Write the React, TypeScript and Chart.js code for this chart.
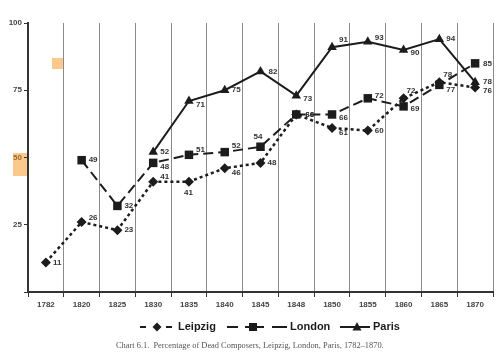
import React, { useEffect, useRef } from "react";
import { Chart, registerables } from "chart.js";

Chart.register(...registerables);

const years = ["1782", "1820", "1825", "1830", "1835", "1840", "1845", "1848", "1850", "1855", "1860", "1865", "1870"];
const leipzig = [11, 26, 23, 41, 41, 46, 48, 66, 61, 60, 72, 78, 76];
const london = [null, 49, 32, 48, 51, 52, 54, 66, 66, 72, 69, 77, 85];
const paris = [null, null, null, 52, 71, 75, 82, 73, 91, 93, 90, 94, 78];
const yTicks = [25, 50, 75, 100];

// label offsets [dx, dy] per point (styling only)
const leipzigLabelOff = [[7, 0], [7, -4], [7, 0], [7, -5], [-5, 11], [7, 5], [7, 0], [9, 0], [7, 5], [7, 0], [3, -8], [4, -7], [8, 3]];
const londonLabelOff = [[7, 0], [7, 0], [7, 0], [7, 4], [7, -5], [7, -6], [-7, -10], [9, 0], [7, 3], [7, -3], [7, 2], [7, 5], [8, 0]];
const parisLabelOff = [[7, 0], [7, 0], [7, 0], [7, 0], [7, 4], [7, 0], [8, 0], [7, 3], [7, -7], [7, -4], [7, 3], [7, 0], [8, 0]];

const INK = "#1c1c1c";
const FONT = "'Liberation Sans', Arial, sans-serif";

const decorPlugin = {
  id: "decor",
  beforeDraw(chart: any) {
    const ctx = chart.ctx;
    ctx.save();
    ctx.fillStyle = "#fbc98c";
    ctx.fillRect(52, 58, 11, 11);
    ctx.fillRect(13, 153, 14, 23);
    ctx.restore();
  },
  afterDatasetsDraw(chart: any) {
    const ctx = chart.ctx;
    const offs = [leipzigLabelOff, londonLabelOff, parisLabelOff];
    ctx.save();
    ctx.font = `bold 8px ${FONT}`;
    ctx.fillStyle = "#333";
    ctx.textAlign = "left";
    ctx.textBaseline = "middle";
    chart.data.datasets.forEach((ds: any, di: number) => {
      const meta = chart.getDatasetMeta(di);
      meta.data.forEach((pt: any, i: number) => {
        const v = ds.data[i];
        if (v === null || v === undefined) return;
        const [dx, dy] = offs[di][i];
        ctx.fillText(String(v), pt.x + dx, pt.y + dy);
      });
    });
    ctx.restore();
  },
  afterDraw(chart: any) {
    const ctx = chart.ctx;
    ctx.save();
    ctx.strokeStyle = INK;
    ctx.fillStyle = INK;
    ctx.lineWidth = 2;
    const ly = 327;
    const seg = (a: number, b: number) => {
      ctx.beginPath();
      ctx.moveTo(a, ly);
      ctx.lineTo(b, ly);
      ctx.stroke();
    };
    // Leipzig
    seg(140, 146);
    seg(166, 172);
    ctx.beginPath();
    ctx.moveTo(157, ly - 4.5);
    ctx.lineTo(161.5, ly);
    ctx.lineTo(157, ly + 4.5);
    ctx.lineTo(152.5, ly);
    ctx.closePath();
    ctx.fill();
    // London
    seg(227, 238);
    seg(245, 264);
    seg(272, 287);
    ctx.fillRect(249, ly - 4, 8, 8);
    // Paris
    seg(340, 370);
    ctx.beginPath();
    ctx.moveTo(357, ly - 5);
    ctx.lineTo(361.5, ly + 3.5);
    ctx.lineTo(352.5, ly + 3.5);
    ctx.closePath();
    ctx.fill();
    ctx.font = `bold 11px ${FONT}`;
    ctx.textAlign = "left";
    ctx.textBaseline = "middle";
    ctx.fillText("Leipzig", 178, ly);
    ctx.fillText("London", 290, ly);
    ctx.fillText("Paris", 373, ly);
    // caption
    ctx.font = "8.4px 'Liberation Serif', 'DejaVu Serif', serif";
    ctx.fillStyle = "#555";
    ctx.textAlign = "left";
    ctx.fillText("Chart 6.1.  Percentage of Dead Composers, Leipzig, London, Paris, 1782–1870.", 116, 346);
    ctx.restore();
  },
};

export default function App() {
  const ref = useRef<HTMLCanvasElement | null>(null);
  useEffect(() => {
    if (!ref.current) return;
    const chart = new Chart(ref.current, {
      type: "line",
      data: {
        labels: years,
        datasets: [
          {
            label: "Leipzig",
            data: leipzig,
            borderColor: INK,
            backgroundColor: INK,
            borderWidth: 2.5,
            borderDash: [3, 3],
            pointStyle: "rectRot",
            pointRadius: 5,
            pointBorderWidth: 0,
            spanGaps: false,
          },
          {
            label: "London",
            data: london,
            borderColor: INK,
            backgroundColor: INK,
            borderWidth: 2,
            borderDash: [10, 5],
            pointStyle: "rect",
            pointRadius: 6,
            pointBorderWidth: 0,
          },
          {
            label: "Paris",
            data: paris,
            borderColor: INK,
            backgroundColor: INK,
            borderWidth: 2,
            pointStyle: "triangle",
            pointRadius: 5.5,
            pointBorderWidth: 0,
          },
        ],
      },
      options: {
        animation: false,
        responsive: false,
        maintainAspectRatio: false,
        layout: { padding: { left: 0, top: 23, right: 7, bottom: 42 } },
        plugins: { legend: { display: false }, tooltip: { enabled: false } },
        scales: {
          x: {
            offset: true,
            grid: {
              offset: true,
              display: true,
              color: "#8a8a8a",
              lineWidth: 1,
              drawTicks: true,
              tickLength: 5,
              tickColor: "#333",
            },
            border: { display: true, color: "#333", width: 2 },
            ticks: {
              font: { family: FONT, size: 8, weight: "bold" },
              color: "#444",
              padding: 3,
              maxRotation: 0,
              autoSkip: false,
            },
            afterFit(scale: any) {
              scale.height = 20;
            },
          },
          y: {
            min: 0,
            max: 100,
            afterBuildTicks(scale: any) {
              scale.ticks = [0, ...yTicks].map((v) => ({ value: v }));
            },
            grid: {
              display: true,
              drawOnChartArea: false,
              drawTicks: true,
              tickLength: 4,
              tickColor: "#333",
            },
            border: { display: true, color: "#333", width: 2 },
            ticks: {
              font: { family: FONT, size: 8, weight: "bold" },
              color: (c: any) => (c.tick && c.tick.value === 50 ? "#9a6a2a" : "#444"),
              padding: 2,
              callback: (v: any) => (v === 0 ? "" : String(v)),
            },
            afterFit(scale: any) {
              scale.width = 28;
            },
          },
        },
      },
      plugins: [decorPlugin],
    });
    return () => chart.destroy();
  }, []);
  return (
    <div style={{ position: "fixed", left: 0, top: 0, width: 500, height: 354, background: "#fff" }}>
      <canvas ref={ref} width={500} height={354} style={{ width: 500, height: 354, display: "block" }} />
    </div>
  );
}
